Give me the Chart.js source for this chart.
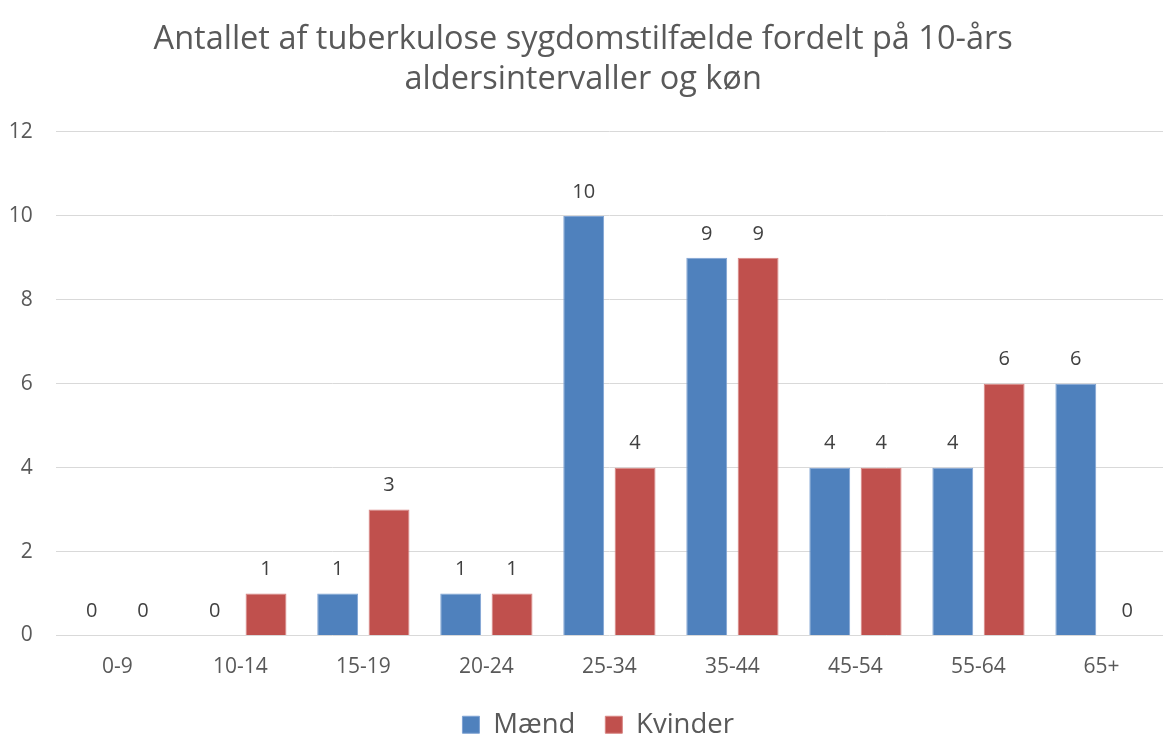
<!DOCTYPE html>
<html>
<head>
<meta charset="utf-8">
<script src="https://cdn.jsdelivr.net/npm/chart.js@4.4.0/dist/chart.umd.min.js"></script>
<style>
html,body{margin:0;padding:0;background:#fff;}
#wrap{width:1163px;height:735px;position:relative;}
</style>
</head>
<body>
<div id="wrap"><canvas id="c" width="1163" height="735"></canvas></div>
<script>
const categories = ["0-9","10-14","15-19","20-24","25-34","35-44","45-54","55-64","65+"];
const maend = [0,0,1,1,10,9,4,4,6];
const kvinder = [0,1,3,1,4,9,4,6,0];
const seriesNames = ["Mænd","Kvinder"];
const titleLines = ["Antallet af tuberkulose sygdomstilfælde fordelt på 10-års","aldersintervaller og køn"];
const yTicks = [0,2,4,6,8,10,12];

const FONT = "'Open Sans', 'Liberation Sans', sans-serif";

const valueLabels = {
  id: 'valueLabels',
  afterDatasetsDraw(chart) {
    const ctx = chart.ctx;
    ctx.save();
    ctx.font = "20px " + FONT;
    ctx.fillStyle = "#404040";
    ctx.textAlign = "center";
    ctx.textBaseline = "middle";
    chart.data.datasets.forEach((ds, i) => {
      const meta = chart.getDatasetMeta(i);
      meta.data.forEach((bar, j) => {
        ctx.fillText(String(ds.data[j]), bar.x, bar.y - 24);
      });
    });
    ctx.restore();
  }
};

const legendShift = {
  id: 'legendShift',
  afterLayout(chart) {
    if (chart.legend) { chart.legend.left += 15; chart.legend.right += 15; }
  }
};

new Chart(document.getElementById('c'), {
  type: 'bar',
  data: {
    labels: categories,
    datasets: [
      {label: seriesNames[0], data: maend, backgroundColor: '#4F81BD', borderColor: '#7fa3d3', borderWidth: 1},
      {label: seriesNames[1], data: kvinder, backgroundColor: '#C0504D', borderColor: '#d88583', borderWidth: 1}
    ]
  },
  options: {
    responsive: false,
    animation: false,
    devicePixelRatio: 1,
    datasets: { bar: { categoryPercentage: 0.835, barPercentage: 0.796 } },
    layout: { padding: { left: 0, right: -3.4, top: 0, bottom: -13.5 } },
    plugins: {
      title: {
        display: true,
        text: titleLines,
        color: '#595959',
        font: { family: FONT, size: 32.5, weight: 'normal', lineHeight: 1.23 },
        padding: { top: 19.5, bottom: 32.5 }
      },
      legend: {
        position: 'bottom',
        labels: {
          color: '#595959',
          font: { family: FONT, size: 27.5 },
          boxWidth: 17, boxHeight: 17, padding: 30
        }
      },
      tooltip: { enabled: false }
    },
    scales: {
      x: {
        afterFit(scale) { scale.height = 45.5; },
        grid: { display: false, drawTicks: false },
        border: { display: false },
        ticks: { color: '#595959', font: { family: FONT, size: 21 }, padding: 19, maxRotation: 0 }
      },
      y: {
        min: 0, max: 12,
        afterFit(scale) { scale.width = 55.8; },
        afterBuildTicks(scale) { scale.ticks = yTicks.map(v => ({value: v})); },
        grid: { color: '#d9d9d9', lineWidth: 1, drawTicks: false },
        border: { display: false },
        ticks: { color: '#595959', font: { family: FONT, size: 21 }, padding: 23 }
      }
    }
  },
  plugins: [valueLabels, legendShift]
});
</script>
</body>
</html>
